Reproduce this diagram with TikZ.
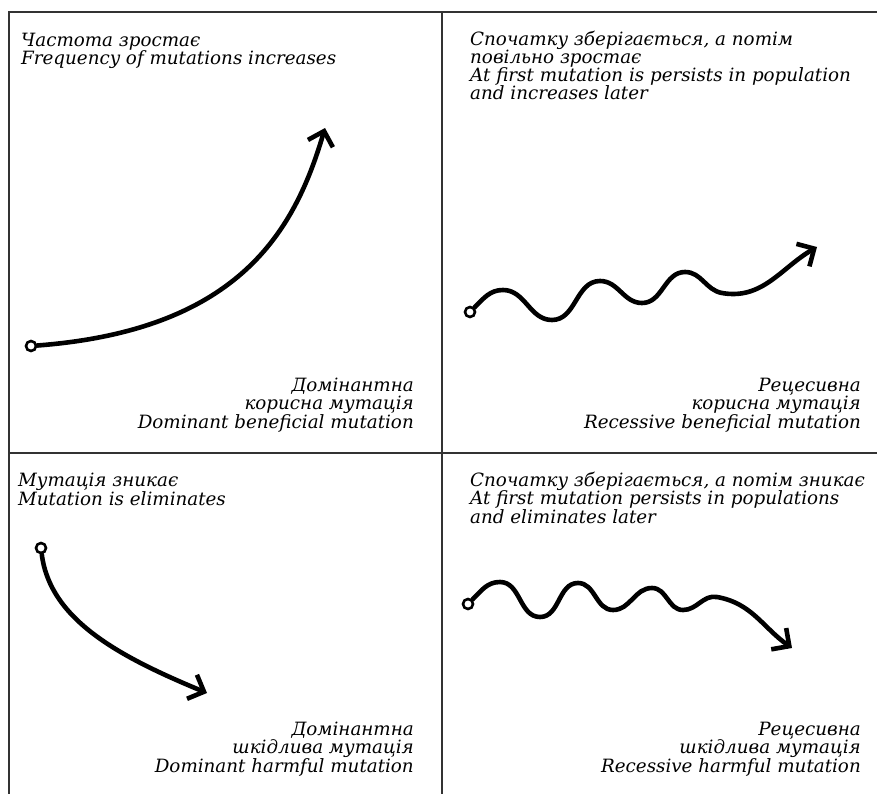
\documentclass[tikz,border=0pt]{standalone}
\usepackage{fontspec}
\setmainfont{DejaVu Serif}
\usetikzlibrary{arrows.meta}
\setlength{\lineskiplimit}{-50pt}
\tikzset{
  frame/.style={line width=1.2pt,black!80},
  caption/.style={inner sep=0pt,font=\fontsize{18.3}{18.3}\selectfont\itshape},
  startdot/.style={circle,draw,line width=2.6pt,minimum size=10pt,inner sep=0pt},
  trend/.style={line width=4.6pt,line cap=round,-{Straight Barb[length=13pt,width=26pt]}}
}
\begin{document}
\begin{tikzpicture}[x=1pt,y=-1pt]
      \useasboundingbox (0,0) rectangle (877,794);
      \draw[frame] (9,794) -- (9,12) -- (877,12);
      \draw[frame] (442,12) -- (442,794);
      \draw[frame] (9,453) -- (877,453);
      % texts (anchored at the baseline of the last line)
      \node[caption,anchor=base west,align=left] (tltext) at (21,65)
        {Частота зростає\\Frequency of mutations increases};
      \node[caption,anchor=base west,align=left] (trtext) at (470,100)
        {Спочатку зберігається, а потім\\повільно зростає\\At first mutation is persists in population\\and increases later};
      \node[caption,anchor=base west,align=left] (bltext) at (18,505)
        {Мутація зникає\\Mutation is eliminates};
      \node[caption,anchor=base west,align=left] (brtext) at (470,523)
        {Спочатку зберігається, а потім зникає\\At first mutation persists in populations\\and eliminates later};
      \node[caption,anchor=base east,align=right] (tllabel) at (414,428)
        {Домінантна\\корисна мутація\\Dominant beneficial mutation};
      \node[caption,anchor=base east,align=right] (trlabel) at (861,428)
        {Рецесивна\\корисна мутація\\Recessive beneficial mutation};
      \node[caption,anchor=base east,align=right] (bllabel) at (414,772)
        {Домінантна\\шкідлива мутація\\Dominant harmful mutation};
      \node[caption,anchor=base east,align=right] (brlabel) at (861,772)
        {Рецесивна\\шкідлива мутація\\Recessive harmful mutation};
      % curves
      \node[startdot] (tlstart) at (31,346) {};
      \coordinate (tlend) at (325,128);
      \draw[trend] (tlstart) .. controls (240,330) and (295,230) .. (tlend);
      \node[startdot] (trstart) at (470,312) {};
      \coordinate (trend1) at (817,247);
      \draw[trend] (trstart) to[out=45,in=180] (503,290) to[out=0,in=180] (552,320)
        to[out=0,in=180] (600,281) to[out=0,in=180] (642,303) to[out=0,in=180] (685,272)
        to[out=0,in=170] (722,293) to[out=-10,in=210] (trend1);
      \node[startdot] (blstart) at (41,548) {};
      \coordinate (blend) at (207,693);
      \draw[trend] (blstart) .. controls (50,620) and (120,657) .. (blend);
      \node[startdot] (brstart) at (468,604) {};
      \coordinate (brend) at (792,648);
      \draw[trend] (brstart) to[out=45,in=180] (500,582) to[out=0,in=180] (540,617)
        to[out=0,in=180] (578,583) to[out=0,in=180] (613,610) to[out=0,in=180] (652,588)
        to[out=0,in=180] (683,610) to[out=0,in=170] (717,597) to[out=-10,in=145] (brend);
\end{tikzpicture}
\end{document}
